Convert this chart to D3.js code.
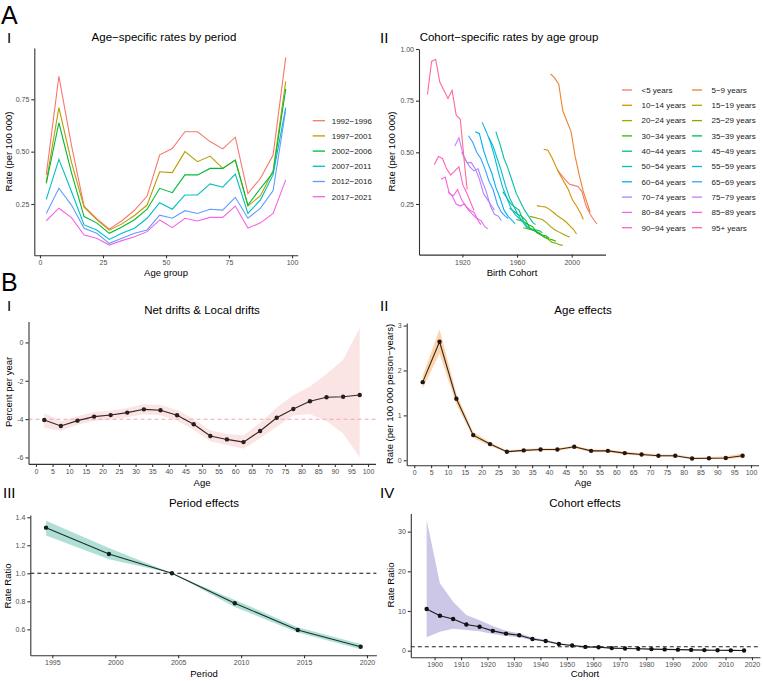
<!DOCTYPE html>
<html>
<head>
<meta charset="utf-8">
<script src="https://cdn.jsdelivr.net/npm/d3@7"></script>
<style>
body { margin: 0; background: #fff; }
svg { font-family: "Liberation Sans", Arial, sans-serif; }
.axis text { fill: #4d4d4d; font-size: 7px; }
.axis path, .axis line { stroke: #333; stroke-width: 1.1; }
.ttl { font-size: 11.5px; fill: #000; text-anchor: middle; }
.atl { font-size: 9.5px; fill: #000; text-anchor: middle; }
.lab { fill: #000; }
.leg { font-size: 8px; fill: #1a1a1a; }
</style>
</head>
<body>
<svg id="fig" width="763" height="681"></svg>
<script>
// ---- A-I : age-specific rates by period
const ageMid = [2.5, 7.5, 12.5, 17.5, 22.5, 27.5, 32.5, 37.5, 42.5, 47.5, 52.5, 57.5, 62.5, 67.5, 72.5, 77.5, 82.5, 87.5, 92.5, 97.5];
const periodNames = ["1992\u22121996", "1997\u22122001", "2002\u22122006", "2007\u22122011", "2012\u22122016", "2017\u22122021"];
const periodColors = ["#F8766D", "#B79F00", "#00BA38", "#00BFC4", "#619CFF", "#F564E3"];
const rate_p1 = [0.389, 0.86, 0.53, 0.24, 0.18, 0.13, 0.17, 0.22, 0.288, 0.485, 0.515, 0.595, 0.595, 0.548, 0.513, 0.569, 0.30, 0.373, 0.484, 0.95];
const rate_p2 = [0.355, 0.71, 0.45, 0.235, 0.175, 0.125, 0.155, 0.195, 0.245, 0.404, 0.40, 0.50, 0.452, 0.479, 0.42, 0.46, 0.24, 0.29, 0.41, 0.835];
const rate_p3 = [0.349, 0.638, 0.40, 0.19, 0.16, 0.11, 0.14, 0.175, 0.225, 0.325, 0.304, 0.389, 0.389, 0.42, 0.42, 0.46, 0.245, 0.325, 0.40, 0.80];
const rate_p4 = [0.272, 0.463, 0.31, 0.15, 0.126, 0.081, 0.11, 0.134, 0.182, 0.256, 0.225, 0.293, 0.293, 0.346, 0.33, 0.393, 0.205, 0.27, 0.39, 0.71];
const rate_p5 = [0.205, 0.325, 0.245, 0.134, 0.11, 0.062, 0.086, 0.11, 0.126, 0.197, 0.182, 0.218, 0.205, 0.225, 0.221, 0.282, 0.182, 0.23, 0.314, 0.70];
const rate_p6 = [0.17, 0.23, 0.185, 0.102, 0.086, 0.054, 0.075, 0.094, 0.118, 0.174, 0.137, 0.182, 0.169, 0.186, 0.186, 0.24, 0.135, 0.16, 0.205, 0.365];
const periodRates = [rate_p1, rate_p2, rate_p3, rate_p4, rate_p5, rate_p6];

// ---- A-II : cohort-specific rates by age group
const ageGroups = ["<5 years", "5\u22129 years", "10\u221214 years", "15\u221219 years", "20\u221224 years", "25\u221229 years",
  "30\u221234 years", "35\u221239 years", "40\u221244 years", "45\u221249 years", "50\u221254 years", "55\u221259 years",
  "60\u221264 years", "65\u221269 years", "70\u221274 years", "75\u221279 years", "80\u221284 years", "85\u221289 years",
  "90\u221294 years", "95+ years"];
const groupColors = ["#F8766D", "#EA8331", "#D89000", "#C09B00", "#A3A500", "#7CAE00", "#39B600", "#00BB4E", "#00BF7D", "#00C1A3",
  "#00BFC4", "#00BAE0", "#00B0F6", "#35A2FF", "#9590FF", "#C77CFF", "#E76BF3", "#FA62DB", "#FF62BC", "#FF6C91"];
// years after the first birth cohort of each age group
const cohortStep = [0, 3, 6, 9, 12, 15, 18, 21, 24, 27, 29];
const cohortRates = [
  [0.415, 0.39, 0.365, 0.345, 0.34, 0.335, 0.31, 0.24, 0.20, 0.17, 0.153],   // <5
  [0.88, 0.86, 0.83, 0.70, 0.65, 0.60, 0.48, 0.39, 0.31, 0.25, 0.21],        // 5-9
  [0.515, 0.51, 0.475, 0.43, 0.39, 0.355, 0.32, 0.27, 0.24, 0.205, 0.175],   // 10-14
  [0.242, 0.238, 0.236, 0.225, 0.21, 0.193, 0.18, 0.165, 0.145, 0.125, 0.105],
  [0.19, 0.185, 0.18, 0.175, 0.16, 0.14, 0.125, 0.115, 0.105, 0.095, 0.09],
  [0.135, 0.13, 0.125, 0.12, 0.11, 0.09, 0.08, 0.065, 0.06, 0.052, 0.05],
  [0.175, 0.17, 0.16, 0.15, 0.14, 0.11, 0.10, 0.09, 0.08, 0.075, 0.07],
  [0.23, 0.215, 0.20, 0.19, 0.17, 0.13, 0.12, 0.11, 0.10, 0.095, 0.085],
  [0.31, 0.28, 0.25, 0.235, 0.22, 0.17, 0.14, 0.13, 0.125, 0.12, 0.11],
  [0.60, 0.54, 0.47, 0.42, 0.36, 0.30, 0.26, 0.22, 0.19, 0.16, 0.15],
  [0.57, 0.53, 0.47, 0.41, 0.34, 0.28, 0.24, 0.20, 0.17, 0.14, 0.13],
  [0.645, 0.60, 0.55, 0.48, 0.40, 0.33, 0.28, 0.23, 0.20, 0.18, 0.17],
  [0.60, 0.59, 0.51, 0.45, 0.40, 0.33, 0.28, 0.22, 0.19, 0.17, 0.155],
  [0.58, 0.55, 0.50, 0.47, 0.42, 0.36, 0.32, 0.25, 0.21, 0.19, 0.18],
  [0.50, 0.46, 0.43, 0.41, 0.42, 0.36, 0.31, 0.24, 0.20, 0.19, 0.17],
  [0.53, 0.57, 0.49, 0.45, 0.45, 0.42, 0.37, 0.30, 0.27, 0.24, 0.22],
  [0.31, 0.29, 0.25, 0.24, 0.25, 0.22, 0.20, 0.18, 0.17, 0.14, 0.13],
  [0.37, 0.38, 0.30, 0.29, 0.32, 0.27, 0.24, 0.22, 0.21, 0.17, 0.15],
  [0.44, 0.48, 0.47, 0.42, 0.39, 0.41, 0.43, 0.34, 0.30, 0.25, 0.22],
  [0.78, 0.94, 0.95, 0.84, 0.80, 0.76, 0.80, 0.68, 0.66, 0.45, 0.32]        // 95+
];

// ---- B-I : net drift & local drifts
const localDrift = [-4.05, -4.36, -4.08, -3.87, -3.79, -3.66, -3.49, -3.54, -3.80, -4.27, -4.88, -5.06, -5.20, -4.62, -3.93, -3.47, -3.07, -2.86, -2.83, -2.74];
const driftLow  = [-4.45, -4.62, -4.30, -4.10, -4.02, -3.90, -3.75, -3.80, -4.07, -4.55, -5.15, -5.35, -5.55, -5.00, -4.40, -3.80, -3.75, -4.10, -4.75, -6.00];
const driftHigh = [-3.70, -4.10, -3.85, -3.63, -3.56, -3.42, -3.22, -3.27, -3.52, -4.00, -4.60, -4.78, -4.85, -4.20, -3.40, -2.75, -2.30, -1.65, -0.90, 0.75];
const netDrift = -4.01;

// ---- B-II : age effects
const ageEffect = [1.74, 2.64, 1.37, 0.56, 0.36, 0.19, 0.22, 0.24, 0.24, 0.30, 0.21, 0.21, 0.16, 0.13, 0.10, 0.10, 0.04, 0.045, 0.05, 0.10];
const ageLow  = [1.60, 2.38, 1.25, 0.50, 0.32, 0.17, 0.19, 0.21, 0.21, 0.27, 0.18, 0.18, 0.13, 0.10, 0.07, 0.07, 0.02, 0.02, 0.02, 0.06];
const ageHigh = [1.88, 2.92, 1.49, 0.63, 0.40, 0.22, 0.25, 0.27, 0.27, 0.33, 0.24, 0.24, 0.19, 0.16, 0.13, 0.13, 0.07, 0.07, 0.09, 0.15];

// ---- B-III : period effects
const periodMid = [1994.5, 1999.5, 2004.5, 2009.5, 2014.5, 2019.5];
const periodRR   = [1.326, 1.138, 1.0, 0.786, 0.595, 0.476];
const periodLow  = [1.27, 1.10, 1.0, 0.76, 0.578, 0.458];
const periodHigh = [1.375, 1.18, 1.0, 0.81, 0.615, 0.495];

// ---- B-IV : cohort effects
const cohortMid = [1897, 1902, 1907, 1912, 1917, 1922, 1927, 1932, 1937, 1942, 1947, 1952, 1957, 1962, 1967, 1972, 1977, 1982, 1987, 1992, 1997, 2002, 2007, 2012, 2017];
const cohortRR   = [10.5, 8.8, 8.0, 6.6, 6.05, 5.0, 4.3, 3.9, 2.95, 2.45, 1.7, 1.3, 0.95, 0.85, 0.65, 0.55, 0.48, 0.4, 0.32, 0.26, 0.2, 0.15, 0.1, 0.07, 0.05];
const cohortLow  = [3.4, 4.8, 5.5, 5.2, 4.9, 4.2, 3.7, 3.4, 2.65, 2.2, 1.5, 1.15, 0.82, 0.74, 0.56, 0.46, 0.4, 0.33, 0.26, 0.2, 0.15, 0.1, 0.06, 0.04, 0.02];
const cohortHigh = [32.9, 17.0, 12.3, 9.0, 7.7, 6.2, 5.0, 4.4, 3.3, 2.75, 1.95, 1.5, 1.1, 0.98, 0.76, 0.65, 0.57, 0.48, 0.4, 0.33, 0.27, 0.21, 0.16, 0.12, 0.1];

const svg = d3.select("#fig");
svg.append("rect").attr("width", 763).attr("height", 681).attr("fill", "#fff");

function drawAxes(x, y, xTicks, yTicks, xFmt, yFmt) {
  const xb = y.range()[0], yl = x.range()[0];
  svg.append("g").attr("class", "axis")
    .attr("transform", `translate(0,${xb})`)
    .call(d3.axisBottom(x).tickValues(xTicks).tickFormat(xFmt).tickSize(3).tickSizeOuter(0).tickPadding(2));
  svg.append("g").attr("class", "axis")
    .attr("transform", `translate(${yl},0)`)
    .call(d3.axisLeft(y).tickValues(yTicks).tickFormat(yFmt).tickSize(3).tickSizeOuter(0).tickPadding(2));
}
function txt(x, y, s, cls, size) {
  const t = svg.append("text").attr("x", x).attr("y", y).attr("class", cls).text(s);
  if (size) t.attr("font-size", size);
  return t;
}
function ytitle(x, y, s) {
  svg.append("text").attr("class", "atl")
    .attr("transform", `translate(${x},${y}) rotate(-90)`).text(s);
}

// ================= A-I
const xA1 = d3.scaleLinear().domain([-2.25, 102.25]).range([34.3, 297.7]);
const yA1 = d3.scaleLinear().domain([0.005, 0.995]).range([255.3, 48]);
drawAxes(xA1, yA1, [0, 25, 50, 75, 100], [0.25, 0.5, 0.75], d3.format("d"), d3.format(".2f"));
const lineA1 = d3.line().x((d, i) => xA1(ageMid[i])).y(d => yA1(d));
periodRates.forEach((r, k) => {
  svg.append("path").attr("d", lineA1(r)).attr("fill", "none")
    .attr("stroke", periodColors[k]).attr("stroke-width", 1.1);
});
periodNames.forEach((p, k) => {
  const yy = 120.7 + k * 15.2;
  svg.append("line").attr("x1", 312.7).attr("x2", 325).attr("y1", yy).attr("y2", yy)
    .attr("stroke", periodColors[k]).attr("stroke-width", 1.3);
  txt(331.7, yy + 2.8, p, "leg");
});
txt(164, 40.5, "Age\u2212specific rates by period", "ttl");
txt(166, 276, "Age group", "atl");
ytitle(12, 151.5, "Rate (per 100 000)");

// ================= A-II
const xA2 = d3.scaleLinear().domain([1888.3, 2024.7]).range([419, 605.5]);
const yA2 = d3.scaleLinear().domain([0.005, 1.0]).range([254.6, 49]);
drawAxes(xA2, yA2, [1920, 1960, 2000], [0.25, 0.5, 0.75, 1.0], d3.format("d"), d3.format(".2f"));
cohortRates.forEach((r, g) => {
  const first = 1992 - ageMid[g];
  const ln = d3.line().x((d, i) => xA2(first + cohortStep[i])).y(d => yA2(d));
  svg.append("path").attr("d", ln(r)).attr("fill", "none")
    .attr("stroke", groupColors[g]).attr("stroke-width", 1.1);
});
ageGroups.forEach((a, g) => {
  const col = g % 2, row = Math.floor(g / 2);
  const yy = 90 + row * 15.3;
  const x0 = col === 0 ? 622 : 692;
  svg.append("line").attr("x1", x0).attr("x2", x0 + 10).attr("y1", yy).attr("y2", yy)
    .attr("stroke", groupColors[g]).attr("stroke-width", 1.3);
  txt(x0 + 19.5, yy + 2.8, a, "leg");
});
txt(509, 40.5, "Cohort\u2212specific rates by age group", "ttl");
txt(512, 276, "Birth Cohort", "atl");
ytitle(395, 151.5, "Rate (per 100 000)");

// ================= B-I
const xB1 = d3.scaleLinear().domain([-2.25, 102.25]).range([28.5, 375.5]);
const yB1 = d3.scaleLinear().domain([-6.3375, 1.0875]).range([463.9, 321.6]);
const five = d3.range(0, 101, 5);
const areaB1 = d3.area().x((d, i) => xB1(ageMid[i])).y0((d, i) => yB1(driftLow[i])).y1(d => yB1(d));
svg.append("path").attr("d", areaB1(driftHigh)).attr("fill", "#F8D2D2").attr("opacity", 0.6);
svg.append("line").attr("x1", xB1.range()[0]).attr("x2", xB1.range()[1])
  .attr("y1", yB1(netDrift)).attr("y2", yB1(netDrift))
  .attr("stroke", "#F3A7B4").attr("stroke-width", 1.1).attr("stroke-dasharray", "4,3");
drawAxes(xB1, yB1, five, [-6, -4, -2, 0], d3.format("d"), d => String(d));
svg.append("path").attr("d", d3.line().x((d, i) => xB1(ageMid[i])).y(d => yB1(d))(localDrift))
  .attr("fill", "none").attr("stroke", "#332626").attr("stroke-width", 1.1);
svg.selectAll(".pB1").data(localDrift).enter().append("circle")
  .attr("cx", (d, i) => xB1(ageMid[i])).attr("cy", d => yB1(d)).attr("r", 2.2).attr("fill", "#2a1e1e");
txt(202, 314, "Net drifts & Local drifts", "ttl");
txt(202, 486, "Age", "atl");
ytitle(12, 392, "Percent per year");

// ================= B-II
const xB2 = d3.scaleLinear().domain([-2.25, 102.25]).range([406.7, 758.6]);
const yB2 = d3.scaleLinear().domain([-0.11, 3.06]).range([465.2, 322.9]);
const areaB2 = d3.area().x((d, i) => xB2(ageMid[i])).y0((d, i) => yB2(ageLow[i])).y1(d => yB2(d));
svg.append("path").attr("d", areaB2(ageHigh)).attr("fill", "#FBCB98").attr("opacity", 0.8);
drawAxes(xB2, yB2, five, [0, 1, 2, 3], d3.format("d"), d3.format("d"));
svg.append("path").attr("d", d3.line().x((d, i) => xB2(ageMid[i])).y(d => yB2(d))(ageEffect))
  .attr("fill", "none").attr("stroke", "#3a2416").attr("stroke-width", 1.1);
svg.selectAll(".pB2").data(ageEffect).enter().append("circle")
  .attr("cx", (d, i) => xB2(ageMid[i])).attr("cy", d => yB2(d)).attr("r", 2.2).attr("fill", "#24160f");
txt(583, 314, "Age effects", "ttl");
txt(583, 486, "Age", "atl");
ytitle(393, 394, "Rate (per 100 000 person\u2212years)");

// ================= B-III
const xB3 = d3.scaleLinear().domain([1993.25, 2020.75]).range([30.3, 376.4]);
const yB3 = d3.scaleLinear().domain([0.4145, 1.4155]).range([655.3, 515.1]);
const areaB3 = d3.area().x((d, i) => xB3(periodMid[i])).y0((d, i) => yB3(periodLow[i])).y1(d => yB3(d));
svg.append("path").attr("d", areaB3(periodHigh)).attr("fill", "#A9DCD2").attr("opacity", 0.9);
svg.append("line").attr("x1", xB3.range()[0]).attr("x2", xB3.range()[1])
  .attr("y1", yB3(1)).attr("y2", yB3(1))
  .attr("stroke", "#111").attr("stroke-width", 1.1).attr("stroke-dasharray", "4,3");
drawAxes(xB3, yB3, [1995, 2000, 2005, 2010, 2015, 2020], [0.6, 0.8, 1.0, 1.2, 1.4], d3.format("d"), d3.format(".1f"));
svg.append("path").attr("d", d3.line().x((d, i) => xB3(periodMid[i])).y(d => yB3(d))(periodRR))
  .attr("fill", "none").attr("stroke", "#17302b").attr("stroke-width", 1.1);
svg.selectAll(".pB3").data(periodRR).enter().append("circle")
  .attr("cx", (d, i) => xB3(periodMid[i])).attr("cy", d => yB3(d)).attr("r", 2.2).attr("fill", "#10201d");
txt(204, 506.5, "Period effects", "ttl");
txt(204, 677, "Period", "atl");
ytitle(11, 586, "Rate Ratio");

// ================= B-IV
const xB4 = d3.scaleLinear().domain([1891, 2023]).range([410.8, 759.9]);
const yB4 = d3.scaleLinear().domain([-1.64, 34.54]).range([657.2, 513.6]);
const areaB4 = d3.area().x((d, i) => xB4(cohortMid[i])).y0((d, i) => yB4(cohortLow[i])).y1(d => yB4(d));
svg.append("path").attr("d", areaB4(cohortHigh)).attr("fill", "#C9C4E6").attr("opacity", 0.95);
svg.append("line").attr("x1", xB4.range()[0]).attr("x2", xB4.range()[1])
  .attr("y1", yB4(1)).attr("y2", yB4(1))
  .attr("stroke", "#222").attr("stroke-width", 1.1).attr("stroke-dasharray", "4,3");
drawAxes(xB4, yB4, d3.range(1900, 2021, 10), [0, 10, 20, 30], d3.format("d"), d3.format("d"));
svg.append("path").attr("d", d3.line().x((d, i) => xB4(cohortMid[i])).y(d => yB4(d))(cohortRR))
  .attr("fill", "none").attr("stroke", "#1a1a1a").attr("stroke-width", 1.1);
svg.selectAll(".pB4").data(cohortRR).enter().append("circle")
  .attr("cx", (d, i) => xB4(cohortMid[i])).attr("cy", d => yB4(d)).attr("r", 2.2).attr("fill", "#111");
txt(585, 506.5, "Cohort effects", "ttl");
txt(585, 677, "Cohort", "atl");
ytitle(394, 585, "Rate Ratio");

// ================= panel labels
txt(1, 23.5, "A", "lab", "25px");
txt(7, 42.5, "I", "lab", "15px");
txt(380, 42.5, "II", "lab", "15px");
txt(1, 291, "B", "lab", "25px");
txt(7, 311, "I", "lab", "15px");
txt(380, 311, "II", "lab", "15px");
txt(3, 498, "III", "lab", "15px");
txt(380, 498, "IV", "lab", "15px");
</script>
</body>
</html>
